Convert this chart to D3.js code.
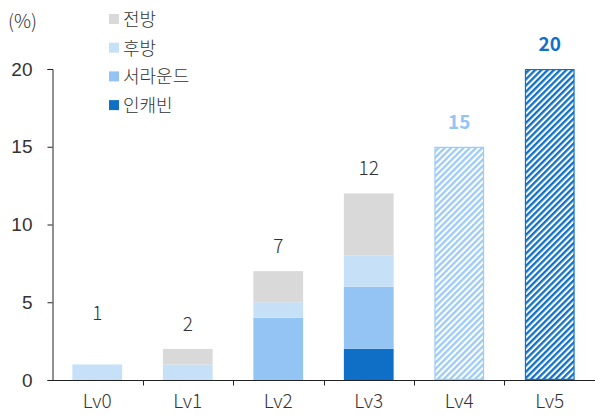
<!DOCTYPE html>
<html><head><meta charset="utf-8">
<script src="https://cdn.jsdelivr.net/npm/d3@7"></script>
<style>body{margin:0;background:#fff;} svg{display:block;font-family:"Noto Sans CJK KR","Noto Sans",sans-serif;}</style>
</head><body>
<svg id="c" width="595" height="417"></svg>
<script>
const categories = ["Lv0","Lv1","Lv2","Lv3","Lv4","Lv5"];
const seriesNames = ["인캐빈","서라운드","후방","전방"];
const incabin  = [0,0,0,2,0,0];
const surround = [0,0,4,4,0,0];
const rear     = [1,1,1,2,0,0];
const front    = [0,1,2,4,0,0];
const projected = [0,0,0,0,15,20];
const totals = [1,2,7,12,15,20];
const yTicks = [0,5,10,15,20];

const colors = {"인캐빈":"#0F6FC6","서라운드":"#93C4F3","후방":"#C6E0F8","전방":"#D9D9D9"};
const txt = "#333";
const svg = d3.select("#c");
const x = d3.scaleBand().domain(categories).range([52,595]).paddingInner(0.45).paddingOuter(0.225);
const y = d3.scaleLinear().domain([0,20]).range([380,69]);

const defs = svg.append("defs");
function hatch(id, col){
  const p = defs.append("pattern").attr("id",id).attr("patternUnits","userSpaceOnUse")
    .attr("width",4.4).attr("height",4.4).attr("patternTransform","rotate(45)");
  p.append("rect").attr("width",4.4).attr("height",4.4).attr("fill","#fff");
  p.append("rect").attr("x",0).attr("width",2.3).attr("height",4.4).attr("fill",col);
}
hatch("h4","#9DCBF5");
hatch("h5","#1070C8");

const rows = categories.map((c,i)=>({cat:c,"인캐빈":incabin[i],"서라운드":surround[i],"후방":rear[i],"전방":front[i]}));
const stack = d3.stack().keys(seriesNames)(rows);
svg.append("g").selectAll("g").data(stack).join("g").attr("fill",d=>colors[d.key])
  .selectAll("rect").data(d=>d.filter(s=>s[1]-s[0]>0)).join("rect")
  .attr("x",d=>x(d.data.cat)).attr("width",x.bandwidth())
  .attr("y",d=>y(d[1])).attr("height",d=>y(d[0])-y(d[1]));

const projCols = {"Lv4":["url(#h4)","#9DCBF5"],"Lv5":["url(#h5)","#1070C8"]};
categories.forEach((c,i)=>{
  if(projected[i]>0){
    svg.append("rect").attr("x",x(c)+0.6).attr("width",x.bandwidth()-1.2)
      .attr("y",y(projected[i])+0.6).attr("height",y(0)-y(projected[i])-1.2)
      .attr("fill",projCols[c][0]).attr("stroke",projCols[c][1]).attr("stroke-width",1.2);
  }
});

// axes
const yAxis = svg.append("g").attr("transform","translate(52.5,0)")
  .call(d3.axisLeft(y).tickValues(yTicks).tickSize(5).tickPadding(15));
yAxis.select(".domain").attr("stroke","#222");
yAxis.selectAll("line").attr("stroke","#222");
yAxis.selectAll("text").attr("font-size",19).attr("font-weight",300).attr("fill",txt).attr("font-family","inherit");

const xg = svg.append("g").attr("transform","translate(0,380.5)");
xg.append("line").attr("x1",52).attr("x2",595).attr("stroke","#222");
xg.selectAll("line.t").data(categories.slice(1)).join("line").attr("class","t")
  .attr("x1",d=>Math.round(x(d)-x.step()*x.paddingInner()/2)+0.5).attr("x2",d=>Math.round(x(d)-x.step()*x.paddingInner()/2)+0.5)
  .attr("y1",0).attr("y2",5).attr("stroke","#222");
xg.selectAll("text").data(categories).join("text")
  .attr("x",d=>x(d)+x.bandwidth()/2).attr("y",27).attr("text-anchor","middle")
  .attr("font-size",19).attr("font-weight",300).attr("fill",txt).text(d=>d);

// totals
const labelCols = [txt,txt,txt,txt,"#93C4F3","#1070C8"];
svg.append("g").selectAll("text").data(categories).join("text")
  .attr("x",d=>x(d)+x.bandwidth()/2)
  .attr("y",(d,i)=>y(totals[i] < 2 ? totals[i] + 1.7 : totals[i]) - 18)
  .attr("text-anchor","middle").attr("font-size",19)
  .attr("font-weight",(d,i)=>i>=4?"bold":300)
  .attr("fill",(d,i)=>labelCols[i]).text((d,i)=>totals[i]);

svg.append("text").attr("x",8).attr("y",28).attr("font-size",19).attr("font-weight",300).attr("fill",txt).text("(%)");

// legend
const legendOrder = ["전방","후방","서라운드","인캐빈"];
const lg = svg.append("g").selectAll("g").data(legendOrder).join("g")
  .attr("transform",(d,i)=>`translate(109,${19+i*28.7})`);
lg.append("rect").attr("x",0).attr("y",-5).attr("width",10).attr("height",10).attr("fill",d=>colors[d]);
lg.append("text").attr("x",14).attr("y",7).attr("font-size",18).attr("font-weight",300).attr("fill",txt).text(d=>d);
</script>
</body></html>
